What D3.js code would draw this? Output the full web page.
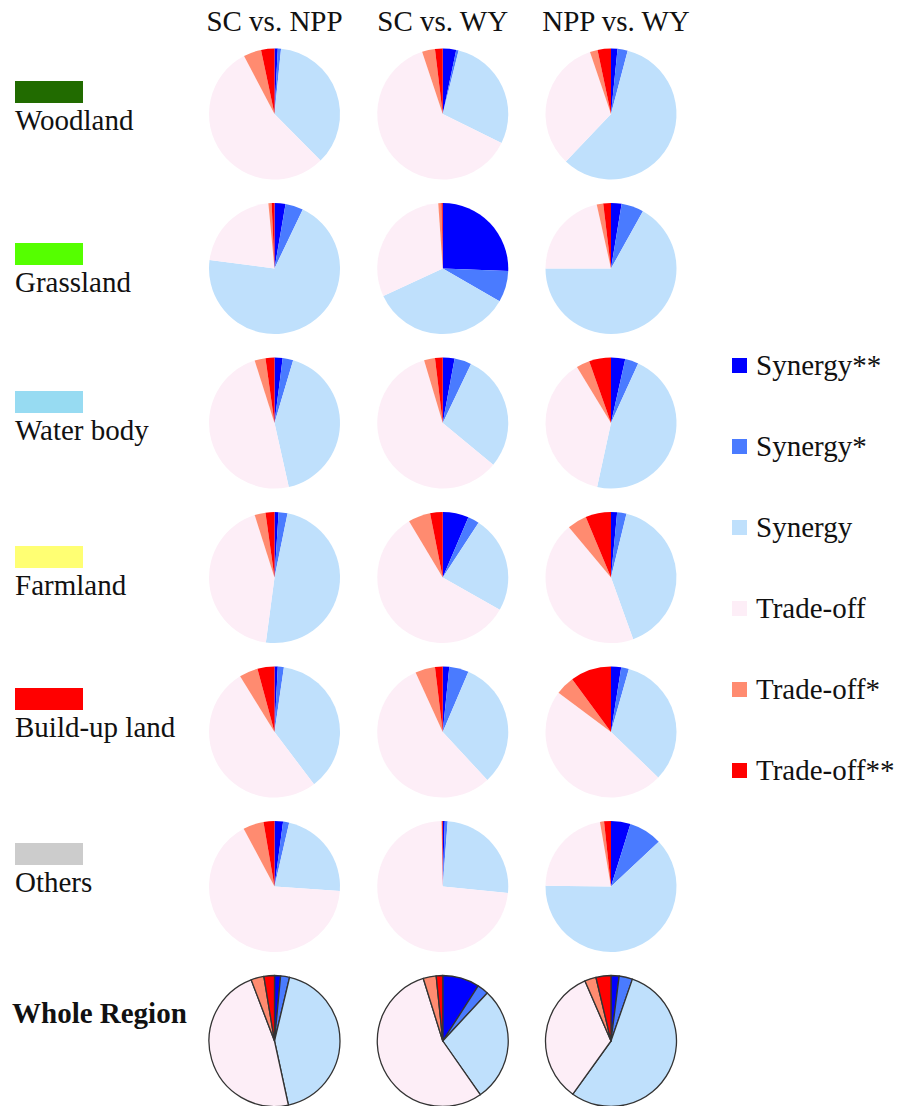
<!DOCTYPE html>
<html>
<head>
<meta charset="utf-8">
<script src="https://cdn.jsdelivr.net/npm/d3@7/dist/d3.min.js"></script>
<style>
  html, body { margin: 0; padding: 0; background: #fff; }
  svg { display: block; }
  text { font-family: "Liberation Serif", "Times New Roman", serif; fill: #111; }
</style>
</head>
<body>
<svg id="chart" width="915" height="1106"></svg>
<script>
// Column headings: the three service pairs being compared
const comparisons = ["SC vs. NPP", "SC vs. WY", "NPP vs. WY"];

// Rows: land-use types plus the whole study region
const landTypes = ["Woodland", "Grassland", "Water body", "Farmland", "Build-up land", "Others", "Whole Region"];
const landColors = ["#216b00", "#55ff00", "#97dbf2", "#ffff73", "#ff0000", "#cccccc", null];

// Relationship classes (legend order, also slice order clockwise from 12 o'clock)
const levels = ["Synergy**", "Synergy*", "Synergy", "Trade-off", "Trade-off*", "Trade-off**"];
const levelColors = ["#0000ff", "#4a7bff", "#bfe0fc", "#fdeef7", "#ff8b70", "#ff0000"];

// Share (%) of pixels in each class, one array per comparison
const woodland = [
  [0.8, 0.8, 36.0, 54.7, 4.4, 3.3],
  [3.3, 0.6, 28.4, 62.6, 3.2, 1.9],
  [1.6, 2.5, 58.0, 32.7, 1.9, 3.3]
];
const grassland = [
  [2.7, 4.4, 70.0, 21.4, 0.8, 0.7],
  [25.6, 7.7, 34.8, 30.8, 0.8, 0.3],
  [2.6, 5.5, 66.9, 21.5, 1.6, 1.9]
];
const waterBody = [
  [2.0, 2.6, 41.9, 48.6, 2.7, 2.2],
  [2.9, 4.2, 28.9, 59.4, 2.7, 1.9],
  [3.5, 3.3, 46.6, 37.9, 3.3, 5.4]
];
const farmland = [
  [1.0, 2.2, 48.9, 43.0, 2.7, 2.2],
  [6.4, 2.8, 24.0, 58.2, 5.5, 3.1],
  [1.5, 2.3, 40.7, 44.4, 4.8, 6.3]
];
const buildUp = [
  [0.8, 1.5, 37.4, 51.5, 4.6, 4.2],
  [1.6, 4.8, 31.7, 55.1, 4.9, 1.9],
  [2.5, 1.9, 32.8, 48.0, 4.7, 10.1]
];
const others = [
  [2.1, 1.5, 22.5, 66.1, 5.1, 2.7],
  [0.5, 0.7, 25.4, 73.1, 0.1, 0.2],
  [4.8, 8.2, 62.2, 22.1, 1.0, 1.7]
];
const wholeRegion = [
  [1.5, 2.2, 42.9, 47.6, 3.2, 2.6],
  [9.1, 2.8, 28.4, 54.9, 3.2, 1.6],
  [2.0, 3.3, 54.6, 33.6, 2.8, 3.7]
];

const rows = [woodland, grassland, waterBody, farmland, buildUp, others, wholeRegion];

// ---- layout ----
const W = 915, H = 1106;
const radius = 65.5;
const fontSize = 29;

const svg = d3.select("#chart");
svg.append("rect").attr("width", W).attr("height", H).attr("fill", "#fff");

// Pie centres on a regular grid
const xCol = d3.scalePoint().domain(comparisons).range([274.5, 611]);
const yRow = d3.scalePoint().domain(landTypes).range([114, 1041]);

// Row label baselines on the left
const labelBaseline = [130, 292, 440, 595, 737, 892, 1023];

const color = d3.scaleOrdinal().domain(levels).range(levelColors);
const pie = d3.pie().sort(null).value(d => d.value);
const arc = d3.arc().innerRadius(0).outerRadius(radius);

// Column headings
svg.selectAll("text.col-head")
  .data(comparisons)
  .join("text")
  .attr("class", "col-head")
  .attr("x", d => xCol(d) + (d === "NPP vs. WY" ? 5 : 0))
  .attr("y", 31)
  .attr("text-anchor", "middle")
  .attr("font-size", fontSize)
  .text(d => d);

// Pies
rows.forEach((rowData, ri) => {
  const isWhole = landTypes[ri] === "Whole Region";
  rowData.forEach((vals, ci) => {
    const g = svg.append("g")
      .attr("transform", `translate(${xCol(comparisons[ci])},${yRow(landTypes[ri])})`);
    const slices = pie(vals.map((v, k) => ({ level: levels[k], value: v })));
    g.selectAll("path")
      .data(slices)
      .join("path")
      .attr("d", arc)
      .attr("fill", d => color(d.data.level))
      .attr("stroke", isWhole ? "#333" : "none")
      .attr("stroke-width", isWhole ? 1.3 : 0)
      .attr("stroke-linejoin", "round");
  });
});

// Row labels with land-use colour swatches
landTypes.forEach((name, ri) => {
  const by = labelBaseline[ri];
  const isWhole = name === "Whole Region";
  if (landColors[ri]) {
    svg.append("rect")
      .attr("x", 15).attr("y", by - 49)
      .attr("width", 68).attr("height", 22)
      .attr("fill", landColors[ri]);
  }
  svg.append("text")
    .attr("x", isWhole ? 12 : 15)
    .attr("y", by)
    .attr("font-size", fontSize)
    .attr("font-weight", isWhole ? "bold" : "normal")
    .text(name);
});

// Legend
const legend = svg.append("g").attr("transform", "translate(732,375)");
const item = legend.selectAll("g")
  .data(levels)
  .join("g")
  .attr("transform", (d, i) => `translate(0,${i * 81})`);
item.append("rect")
  .attr("x", 0).attr("y", -17)
  .attr("width", 15).attr("height", 15)
  .attr("fill", d => color(d));
item.append("text")
  .attr("x", 24).attr("y", 0)
  .attr("font-size", fontSize)
  .text(d => d);
</script>
</body>
</html>
